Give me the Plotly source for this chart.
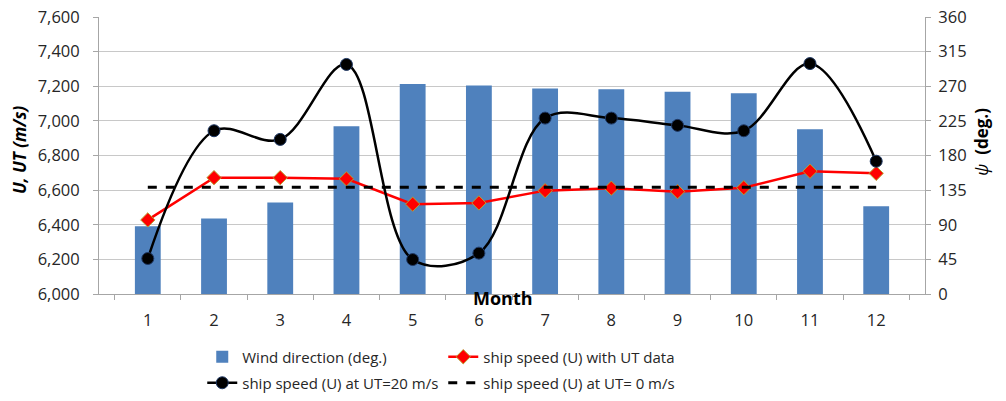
import plotly.graph_objects as go

months = ["1", "2", "3", "4", "5", "6", "7", "8", "9", "10", "11", "12"]
wind_direction = [88, 98, 119, 218, 273, 271, 267, 266, 263, 261, 214, 114]
speed_ut_data = [6428, 6672, 6672, 6665, 6519, 6526, 6597, 6611, 6591, 6614, 6709, 6697]
speed_ut20 = [6205, 6943, 6893, 7326, 6199, 6236, 7016, 7016, 6974, 6943, 7331, 6767]
speed_ut0 = [6617, 6617, 6617, 6617, 6617, 6617, 6617, 6617, 6617, 6617, 6617, 6617]

left_ticks = [6000, 6200, 6400, 6600, 6800, 7000, 7200, 7400, 7600]
left_ticktext = ["6,000", "6,200", "6,400", "6,600", "6,800", "7,000", "7,200", "7,400", "7,600"]
right_ticks = [0, 45, 90, 135, 180, 225, 270, 315, 360]

FONT = "Open Sans"
TXT = "#262626"
TICKSIZE = 16.5

fig = go.Figure()

fig.add_trace(go.Bar(
    x=months, y=wind_direction, name="Wind direction (deg.)",
    marker=dict(color="#4F81BD", line=dict(width=0)),
    width=0.39, yaxis="y", legend="legend",
))
fig.add_trace(go.Scatter(
    x=months, y=speed_ut_data, name="ship speed (U) with UT data",
    mode="lines+markers", yaxis="y2", legend="legend",
    line=dict(color="#FF0000", width=2.5),
    marker=dict(symbol="diamond", size=11, color="#FF0000",
                line=dict(color="#B8A030", width=1)),
))
fig.add_trace(go.Scatter(
    x=months, y=speed_ut20, name="ship speed (U) at UT=20 m/s",
    mode="lines+markers", yaxis="y2", legend="legend2",
    line=dict(color="#000000", width=2.5, shape="spline", smoothing=1.0),
    marker=dict(symbol="circle", size=12, color="#000000",
                line=dict(color="#1F3864", width=1)),
))
fig.add_trace(go.Scatter(
    x=months, y=speed_ut0, name="ship speed (U) at UT= 0 m/s",
    mode="lines", yaxis="y2", legend="legend2",
    line=dict(color="#000000", width=3, dash="dash"),
))

fig.update_layout(
    width=1006, height=401,
    margin=dict(l=99, r=81, t=17, b=107, autoexpand=False),
    paper_bgcolor="white", plot_bgcolor="white",
    font=dict(family=FONT, size=15, color=TXT),
    xaxis=dict(
        type="category", tickson="boundaries", ticks="outside", ticklen=5,
        tickcolor="#A6A6A6", showline=True, linecolor="#A6A6A6", linewidth=1,
        showgrid=False, tickfont=dict(size=TICKSIZE, color=TXT), zeroline=False,
        automargin=False, ticklabelstandoff=11,
    ),
    yaxis=dict(
        side="right", range=[0, 360], tickvals=right_ticks,
        ticks="outside", ticklen=5, tickcolor="#A6A6A6",
        showline=True, linecolor="#A6A6A6", showgrid=True, gridcolor="#C8C8C8",
        gridwidth=1, zeroline=False, tickfont=dict(size=TICKSIZE, color=TXT),
        ticklabelstandoff=4, automargin=False,
    ),
    yaxis2=dict(
        side="left", overlaying="y", range=[6000, 7600], tickvals=left_ticks,
        ticktext=left_ticktext, ticks="outside", ticklen=5, tickcolor="#A6A6A6",
        showline=True, linecolor="#A6A6A6", showgrid=False, zeroline=False,
        tickfont=dict(size=TICKSIZE, color=TXT), ticklabelstandoff=10,
        automargin=False,
    ),
    legend=dict(
        orientation="h", x=0.125, xanchor="left", y=-0.2274, yanchor="middle",
        entrywidth=196, font=dict(size=15, color=TXT), bgcolor="rgba(0,0,0,0)",
        traceorder="normal",
    ),
    legend2=dict(
        orientation="h", x=0.125, xanchor="left", y=-0.3213, yanchor="middle",
        entrywidth=196, font=dict(size=15, color=TXT), bgcolor="rgba(0,0,0,0)",
        traceorder="normal",
    ),
    annotations=[
        dict(text="<b>Month</b>", x=0.4897, y=-0.015, xref="paper", yref="paper",
             xanchor="center", yanchor="middle",
             showarrow=False, font=dict(size=18, color="#000000")),
        dict(text="<b><i>U, UT (m/s)</i></b>", x=-0.0956, y=0.52, xref="paper", yref="paper",
             xanchor="center", yanchor="middle",
             showarrow=False, textangle=-90, font=dict(size=17, color="#000000")),
        dict(text="<i>ψ</i>  <b>(deg.)</b>", x=1.069, y=0.549, xref="paper", yref="paper",
             xanchor="center", yanchor="middle",
             showarrow=False, textangle=-90, font=dict(size=17, color="#000000")),
    ],
)

fig.write_html("out.html")
